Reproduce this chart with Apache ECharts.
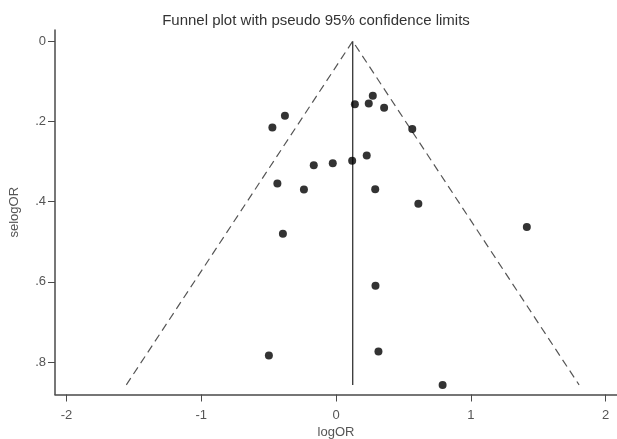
<!DOCTYPE html>
<html>
<head>
<meta charset="utf-8">
<script src="https://cdn.jsdelivr.net/npm/echarts@6/dist/echarts.min.js"></script>
<style>html,body{margin:0;padding:0;background:#fff}#c{width:617px;height:439px}</style>
</head>
<body>
<div id="c"></div>
<script>
// Study estimates: logOR (x) and selogOR (y)
const logOR = [0.273, 0.140, 0.243, 0.357, 0.566, -0.379, -0.472, 0.228, 0.120, -0.024, -0.165, -0.435, -0.238, 0.291, 0.611, 1.416, -0.394, 0.293, -0.498, 0.315, 0.791];
const selogOR = [0.136, 0.157, 0.155, 0.166, 0.219, 0.186, 0.215, 0.285, 0.298, 0.304, 0.309, 0.355, 0.370, 0.369, 0.405, 0.463, 0.480, 0.610, 0.784, 0.774, 0.857];
// Pooled estimate and funnel depth
const pooled = 0.124;
const maxSe = 0.857;
const z = 1.96;
const xTicks = [-2, -1, 0, 1, 2];
const yTicks = [0, 0.2, 0.4, 0.6, 0.8];
const yTickLabels = ['0', '.2', '.4', '.6', '.8'];

const points = logOR.map((x, i) => [x, selogOR[i]]);
const funnel = [[pooled - z * maxSe, maxSe], [pooled, 0], [pooled + z * maxSe, maxSe]];
const vline = [[pooled, 0], [pooled, maxSe]];

const chart = echarts.init(document.getElementById('c'), null, {renderer: 'canvas'});
const axisColor = '#4a4a4a';
const labelColor = '#555';
const fontFamily = 'Liberation Sans, Arial, sans-serif';
chart.setOption({
  animation: false,
  backgroundColor: '#fff',
  title: {
    text: 'Funnel plot with pseudo 95% confidence limits',
    left: 311, top: 8, textAlign: 'center',
    textStyle: {fontSize: 15, fontWeight: 'normal', color: '#333', fontFamily}
  },
  grid: {left: 55, right: 0, top: 30, bottom: 44.5, outerBoundsMode: 'none', containLabel: false},
  xAxis: {
    type: 'value', min: -2.085, max: 2.085,
    name: 'logOR', nameLocation: 'middle', nameGap: 31,
    nameTextStyle: {fontSize: 13, color: labelColor, fontFamily},
    axisLine: {show: true, onZero: false, lineStyle: {color: axisColor, width: 1.5}},
    axisTick: {show: true, length: 7, customValues: xTicks, lineStyle: {color: axisColor}},
    axisLabel: {customValues: xTicks, fontSize: 13, color: labelColor, fontFamily, margin: 14},
    splitLine: {show: false}
  },
  yAxis: {
    type: 'value', inverse: true, min: -0.028, max: 0.881,
    name: 'selogOR', nameLocation: 'middle', nameGap: 34, nameRotate: 90,
    nameTextStyle: {fontSize: 13, color: labelColor, fontFamily},
    axisLine: {show: true, onZero: false, lineStyle: {color: axisColor, width: 1.5}},
    axisTick: {show: true, length: 7, customValues: yTicks, lineStyle: {color: axisColor}},
    axisLabel: {customValues: yTicks, fontSize: 13, color: labelColor, fontFamily, margin: 9,
      formatter: v => { const i = yTicks.findIndex(t => Math.abs(t - v) < 1e-6); return i >= 0 ? yTickLabels[i] : ''; }},
    splitLine: {show: false}
  },
  series: [
    {type: 'line', data: funnel, symbol: 'none', lineStyle: {color: '#555', width: 1.2, type: [8, 5]}, z: 1},
    {type: 'line', data: vline, symbol: 'none', lineStyle: {color: '#333', width: 1.3}, z: 1},
    {type: 'scatter', data: points, symbol: 'circle', symbolSize: 8, itemStyle: {color: '#000'}, z: 3}
  ]
});
</script>
</body>
</html>
